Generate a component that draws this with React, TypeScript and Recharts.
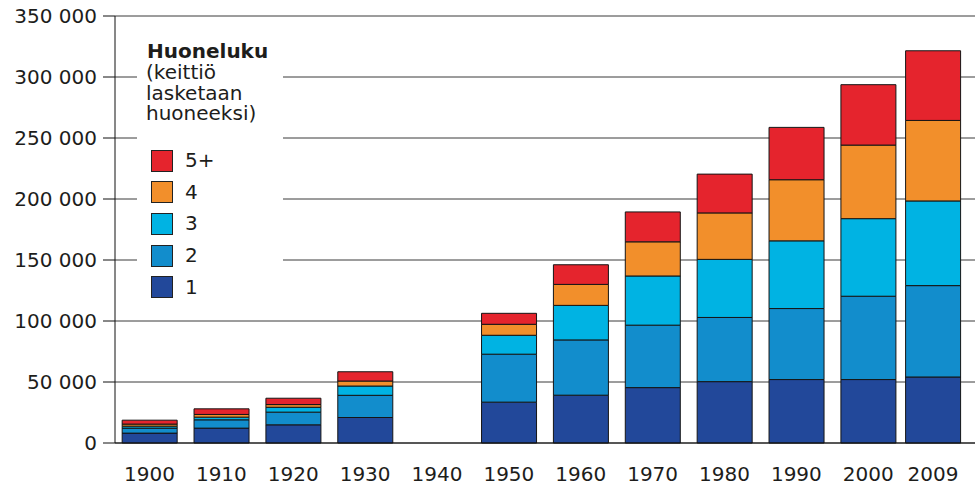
import { Bar, BarChart, CartesianGrid, XAxis, YAxis } from "recharts";

// vuosikymmenet (1940 puuttuu aineistosta)
const vuodet = [1900, 1910, 1920, 1930, 1950, 1960, 1970, 1980, 1990, 2000, 2009];
const tikit = [1900, 1910, 1920, 1930, 1940, 1950, 1960, 1970, 1980, 1990, 2000, 2009];

const huone1 = [8100, 12200, 14900, 20900, 33500, 39200, 45400, 50300, 52000, 52000, 54100];
const huone2 = [4100, 6800, 10400, 18200, 39300, 45300, 51200, 52600, 58200, 68300, 74900];
const huone3 = [1600, 2200, 4000, 7600, 15500, 28300, 40300, 47600, 55500, 63600, 69400];
const huone4 = [1700, 2200, 2200, 4100, 9000, 17200, 28000, 38100, 50100, 60300, 66000];
const huone5 = [3200, 4600, 5200, 7600, 9000, 16100, 24500, 31800, 42900, 49500, 57100];

const yTikit = [0, 50000, 100000, 150000, 200000, 250000, 300000, 350000];

const sarjat = [
  { avain: "h1", nimi: "1", vari: "#22489a", arvot: huone1 },
  { avain: "h2", nimi: "2", vari: "#128dcc", arvot: huone2 },
  { avain: "h3", nimi: "3", vari: "#00b3e3", arvot: huone3 },
  { avain: "h4", nimi: "4", vari: "#f28f2b", arvot: huone4 },
  { avain: "h5", nimi: "5+", vari: "#e5242d", arvot: huone5 },
];

const data = vuodet.map((vuosi, i) => {
  const rivi: Record<string, number> = { vuosi };
  sarjat.forEach((s) => (rivi[s.avain] = s.arvot[i]));
  return rivi;
});

const fontti = "'DejaVu Sans', Verdana, sans-serif";
const teksti = "#1d1d1b";

const muotoile = (v: number) =>
  v === 0 ? "0" : `${Math.floor(v / 1000)} ${String(v % 1000).padStart(3, "0")}`;

function XTikki({ x, y, payload }: any) {
  return (
    <text x={x} y={y + 35.5} textAnchor="middle" fontSize={20} fontFamily={fontti} fill={teksti}>
      {payload.value}
    </text>
  );
}

const otsikko = ["(keittiö", "lasketaan", "huoneeksi)"];

function Selite() {
  return (
    <div
      style={{
        position: "absolute",
        left: 137,
        top: 30,
        width: 146,
        height: 275,
        background: "#fff",
        fontFamily: fontti,
        fontSize: 20,
        color: teksti,
      }}
    >
      <div style={{ position: "absolute", left: 10, top: 11, lineHeight: "20.5px", fontWeight: "bold", whiteSpace: "nowrap" }}>
        Huoneluku
      </div>
      {otsikko.map((rivi, i) => (
        <div
          key={rivi}
          style={{ position: "absolute", left: 9, top: 32 + i * 20.5, lineHeight: "20.5px", whiteSpace: "nowrap" }}
        >
          {rivi}
        </div>
      ))}
      {[...sarjat].reverse().map((s, i) => (
        <div key={s.avain} style={{ position: "absolute", left: 14, top: 119 + i * 31.7, height: 23, display: "flex", alignItems: "center" }}>
          <div style={{ width: 22, height: 22, background: s.vari, border: "1px solid #222", boxSizing: "border-box" }} />
          <span style={{ marginLeft: 12, lineHeight: "23px" }}>{s.nimi}</span>
        </div>
      ))}
    </div>
  );
}

export default function App() {
  return (
    <div style={{ position: "fixed", left: 0, top: 0, width: 975, height: 484, background: "#fff" }}>
      <BarChart width={975} height={484} data={data} margin={{ top: 16, right: 0, bottom: 0, left: 0 }}>
        <CartesianGrid horizontal vertical={false} stroke="#3a3a3a" strokeWidth={1} />
        <XAxis
          dataKey="vuosi"
          type="number"
          domain={[1895.2, 2014.85]}
          ticks={tikit}
          allowDataOverflow
          height={41}
          tickLine={false}
          tickSize={0}
          tick={<XTikki />}
          axisLine={{ stroke: "#111" }}
          interval={0}
        />
        <YAxis
          type="number"
          domain={[0, 350000]}
          ticks={yTikit}
          width={115}
          tickSize={12}
          tickMargin={6}
          tickFormatter={muotoile}
          tick={{ fontSize: 20, fontFamily: fontti, fill: teksti }}
          tickLine={{ stroke: "#111" }}
          axisLine={{ stroke: "#111" }}
          interval={0}
        />
        {sarjat.map((s) => (
          <Bar
            key={s.avain}
            dataKey={s.avain}
            name={s.nimi}
            stackId="a"
            fill={s.vari}
            stroke="#151515"
            strokeWidth={1}
            barSize={55}
            isAnimationActive={false}
          />
        ))}
      </BarChart>
      <Selite />
    </div>
  );
}
